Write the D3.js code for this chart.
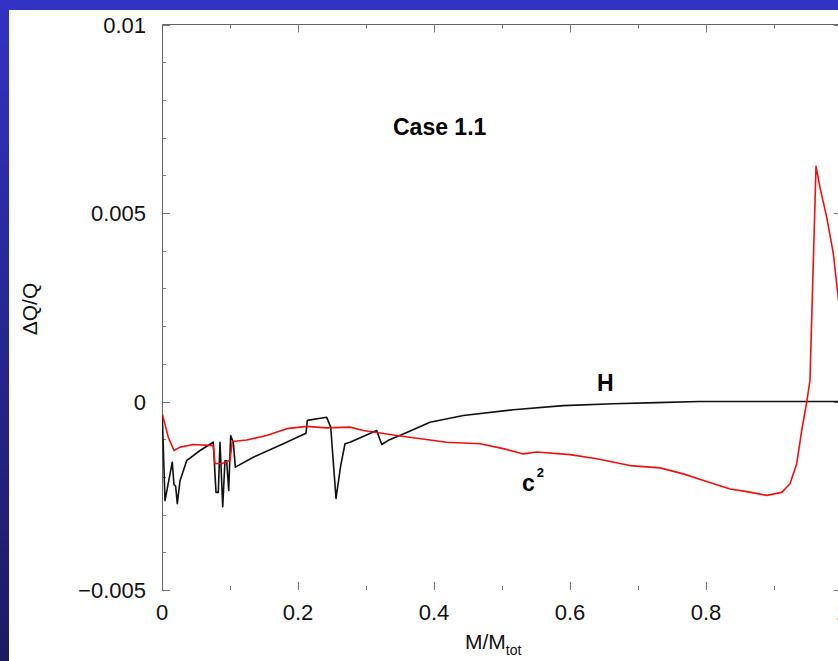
<!DOCTYPE html>
<html>
<head>
<meta charset="utf-8">
<script src="https://cdn.jsdelivr.net/npm/d3@7"></script>
<style>
  html, body { margin: 0; padding: 0; background: #fff; }
  svg { display: block; font-family: "Liberation Sans", Arial, sans-serif; }
</style>
</head>
<body>
<svg width="838" height="661"></svg>
<script>
// M/M_tot and dQ/Q for the hydrogen profile (H)
const hMass = [0.0004, 0.0044, 0.0151, 0.0176, 0.0201, 0.0225, 0.0265, 0.0363, 0.0559, 0.0754,
  0.0794, 0.0828, 0.0853, 0.0893, 0.0926, 0.0951, 0.0981, 0.101, 0.1049, 0.1078,
  0.1343, 0.1784, 0.2118, 0.2137, 0.2422, 0.2481, 0.2559, 0.2628, 0.2691, 0.2765,
  0.3157, 0.3231, 0.3328, 0.3549, 0.3941, 0.4431, 0.5166, 0.5901, 0.6637, 0.7275, 0.79, 1.0];
const hDelta = [-0.00037, -0.00263, -0.00161, -0.0022, -0.00225, -0.00271, -0.0021, -0.00157, -0.0013, -0.00108,
  -0.00241, -0.00241, -0.00108, -0.00279, -0.00157, -0.00157, -0.00236, -0.0009, -0.00108, -0.00174,
  -0.00148, -0.00112, -0.00084, -0.0005, -0.00042, -0.00068, -0.00257, -0.0017, -0.00112, -0.00108,
  -0.00077, -0.00114, -0.00103, -0.00086, -0.00055, -0.00037, -0.00022, -0.00011, -0.00006, -0.00003, 0, 0];

// sound speed squared (c^2)
const cMass = [0.0004, 0.0093, 0.0176, 0.0265, 0.046, 0.0754, 0.0779, 0.0878, 0.1, 0.1034,
  0.1246, 0.154, 0.1834, 0.2128, 0.2422, 0.2765, 0.296, 0.3451, 0.4187, 0.4676,
  0.5019, 0.5313, 0.551, 0.6, 0.6393, 0.6882, 0.7324, 0.7666, 0.801, 0.8353,
  0.8599, 0.8893, 0.9113, 0.9235, 0.9334, 0.9407, 0.9481, 0.9529, 0.9618, 0.9676,
  0.9775, 0.9872, 0.9921, 1.0];
const cDelta = [-0.00033, -0.00095, -0.0013, -0.00121, -0.00114, -0.00117, -0.00164, -0.00165, -0.00156, -0.00106,
  -0.00102, -0.0009, -0.00072, -0.00066, -0.0007, -0.00068, -0.00077, -0.0009, -0.00108, -0.00112,
  -0.00125, -0.00139, -0.00134, -0.00141, -0.00152, -0.0017, -0.00176, -0.00192, -0.00212, -0.00232,
  -0.00239, -0.00249, -0.00241, -0.00218, -0.00165, -0.00077, -0.00002, 0.00056, 0.00624, 0.00568,
  0.00489, 0.00393, 0.00313, 0.0019];

const xTicks = [0, 0.2, 0.4, 0.6, 0.8, 1];
const xTickLabels = ["0", "0.2", "0.4", "0.6", "0.8", "1"];
const yTicks = [-0.005, 0, 0.005, 0.01];
const yTickLabels = ["\u22120.005", "0", "0.005", "0.01"];

const svg = d3.select("svg");
const W = 838, H = 661;

// blue slide frame
const defs = svg.append("defs");
const grad = defs.append("linearGradient")
  .attr("id", "frame").attr("x1", 0).attr("y1", 0).attr("x2", 0).attr("y2", 1);
grad.append("stop").attr("offset", "0%").attr("stop-color", "#3232c4");
grad.append("stop").attr("offset", "100%").attr("stop-color", "#1b1b62");
svg.append("rect").attr("width", W).attr("height", H).attr("fill", "url(#frame)");
svg.append("rect").attr("x", 9).attr("y", 10).attr("width", W - 9).attr("height", H - 10).attr("fill", "#fff");

const x = d3.scaleLinear().domain([0, 1]).range([162, 842]);
const y = d3.scaleLinear().domain([-0.005, 0.01]).range([590, 24.5]);

defs.append("clipPath").attr("id", "plot")
  .append("rect").attr("x", 162).attr("y", 24.5).attr("width", 680).attr("height", 565.5);

// tick marks inside the box
const tickCol = "#777";
const xMinor = d3.range(0, 1.001, 0.1);
const yMinor = d3.range(-0.005, 0.01001, 0.001);
const isMajor = (v, step) => Math.abs(v / step - Math.round(v / step)) < 1e-6;

const ticks = svg.append("g").attr("stroke", tickCol).attr("stroke-width", 1);
xMinor.forEach((v) => {
  const len = isMajor(v, 0.2) ? 8 : 4;
  const px = Math.round(x(v)) + 0.5;
  ticks.append("line").attr("x1", px).attr("x2", px).attr("y1", y(-0.005)).attr("y2", y(-0.005) - len);
  ticks.append("line").attr("x1", px).attr("x2", px).attr("y1", y(0.01)).attr("y2", y(0.01) + len);
});
yMinor.forEach((v) => {
  const len = isMajor(v, 0.005) ? 8 : 4;
  const py = Math.round(y(v)) + 0.5;
  ticks.append("line").attr("x1", x(0)).attr("x2", x(0) + len).attr("y1", py).attr("y2", py);
  ticks.append("line").attr("x1", x(1)).attr("x2", x(1) - len).attr("y1", py).attr("y2", py);
});

// left and top frame lines
svg.append("line").attr("x1", 162.5).attr("x2", 162.5).attr("y1", 24.5).attr("y2", 590)
  .attr("stroke", "#666");
svg.append("line").attr("x1", 162.5).attr("x2", 842).attr("y1", 24.5).attr("y2", 24.5)
  .attr("stroke", "#666");

// tick labels
svg.append("g").selectAll("text").data(yTicks).join("text")
  .attr("x", 146).attr("y", (d) => y(d) + 8)
  .attr("text-anchor", "end").attr("font-size", 22).attr("fill", "#111")
  .text((d, i) => yTickLabels[i]);

svg.append("g").selectAll("text").data(xTicks).join("text")
  .attr("x", (d) => x(d)).attr("y", 620)
  .attr("text-anchor", "middle").attr("font-size", 22).attr("fill", "#111")
  .text((d, i) => xTickLabels[i]);

// axis titles
const xt = svg.append("text").attr("x", 465).attr("y", 649).attr("font-size", 21).attr("fill", "#111");
xt.append("tspan").text("M/M");
xt.append("tspan").attr("font-size", 14).attr("dy", 6).text("tot");

svg.append("text").attr("transform", "translate(37,309) rotate(-90)")
  .attr("text-anchor", "middle").attr("font-size", 21).attr("fill", "#111")
  .text("\u0394Q/Q");

// curves
const line = d3.line().x((d) => x(d[0])).y((d) => y(d[1]));
const curves = svg.append("g").attr("clip-path", "url(#plot)").attr("fill", "none")
  .attr("stroke-linejoin", "round");

curves.append("path")
  .datum(hMass.map((m, i) => [m, hDelta[i]]))
  .attr("d", line).attr("stroke", "#111").attr("stroke-width", 1.6);

curves.append("path")
  .datum(cMass.map((m, i) => [m, cDelta[i]]))
  .attr("d", line).attr("stroke", "#ee1111").attr("stroke-width", 1.6);

// annotations
svg.append("text").attr("x", 393).attr("y", 135).attr("font-size", 23).attr("font-weight", "bold")
  .attr("fill", "#000").text("Case 1.1");
svg.append("text").attr("x", 597).attr("y", 391).attr("font-size", 23).attr("font-weight", "bold")
  .attr("fill", "#000").text("H");
const c2 = svg.append("text").attr("x", 522).attr("y", 491).attr("font-size", 23).attr("font-weight", "bold")
  .attr("fill", "#000");
c2.append("tspan").text("c");
c2.append("tspan").attr("font-size", 13).attr("dx", 2).attr("dy", -14).text("2");
</script>
</body>
</html>
